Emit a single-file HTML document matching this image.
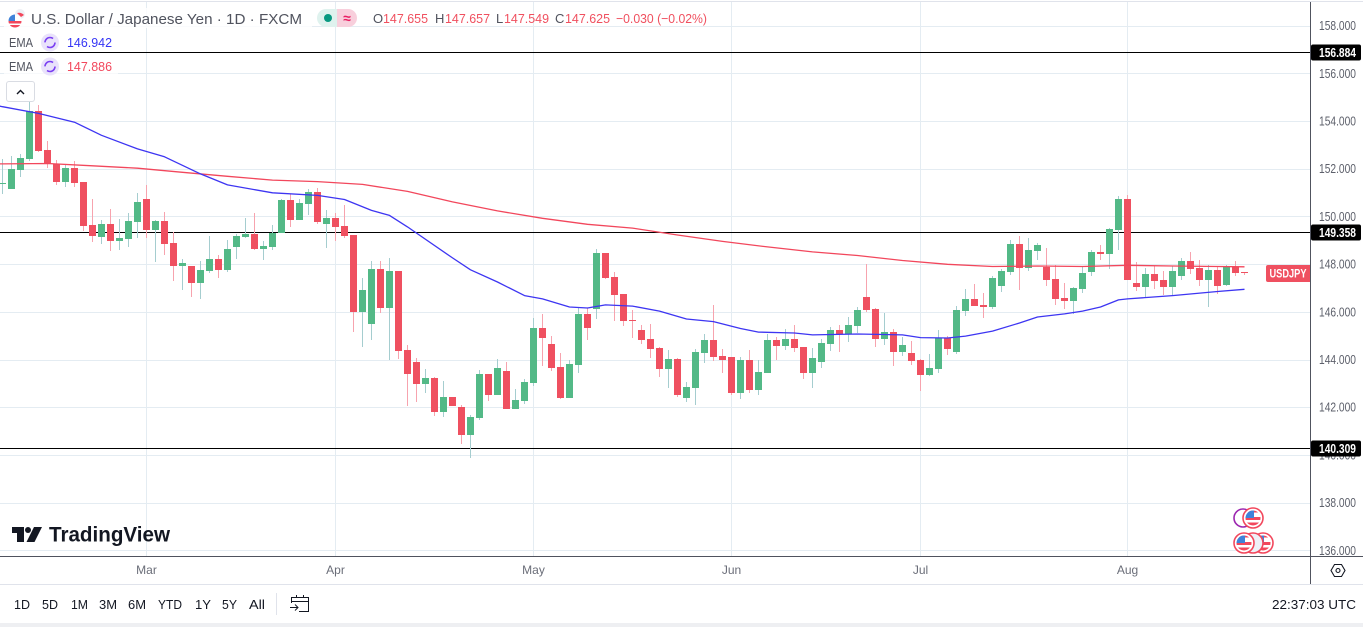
<!DOCTYPE html>
<html lang="en">
<head>
<meta charset="utf-8">
<title>USD/JPY Chart</title>
<style>
html,body{margin:0;padding:0;background:#fff;width:1363px;height:627px;overflow:hidden}
svg{display:block;font-family:"Liberation Sans",sans-serif}
</style>
</head>
<body>
<svg id="chart" xmlns="http://www.w3.org/2000/svg" width="1363" height="627" viewBox="0 0 1363 627">
  <defs>
    <clipPath id="paneClip"><rect x="0" y="2" width="1310" height="554"/></clipPath>
    <clipPath id="flagClip"><circle cx="0" cy="0" r="7.5"/></clipPath>
    <g id="usFlag">
      <circle r="10" fill="#fff" stroke="#f2475c" stroke-width="1.6"/>
      <g clip-path="url(#flagClip)">
        <rect x="-8" y="-8" width="16" height="16" fill="#fff"/>
        <rect x="-8" y="-8" width="16" height="2.5" fill="#f2475c"/>
        <rect x="-8" y="-1" width="16" height="3" fill="#f2475c"/>
        <rect x="-8" y="4.5" width="16" height="3.5" fill="#f2475c"/>
        <rect x="-8" y="-8" width="9" height="8" fill="#3f82d9"/>
      </g>
    </g>
  </defs>

  <rect x="0" y="0" width="1363" height="627" fill="#fff"/>
  <rect x="0" y="1" width="1363" height="1" fill="#e0e3eb"/>

  <g id="grid"></g>
  <g id="levels" clip-path="url(#paneClip)"></g>
  <g id="candles" clip-path="url(#paneClip)"></g>
  <g clip-path="url(#paneClip)">
    <polyline id="slowLine" fill="none" stroke="#f2475c" stroke-width="1.3" stroke-linejoin="round"/>
    <polyline id="fastLine" fill="none" stroke="#3d35f2" stroke-width="1.3" stroke-linejoin="round"/>
  </g>

  <!-- legend -->
  <rect x="4" y="8" width="308" height="20" fill="#fff" opacity="0.8"/>
  <g>
    <circle cx="20" cy="14" r="5" fill="#eef0f5"/>
    <path d="M17 13 A7 7 0 0 1 24 15 L21 17 Z" fill="#f2475c"/>
    <circle cx="15" cy="21" r="6.5" fill="#fff"/>
    <path d="M8.5 21 H21.5 A6.5 6.5 0 0 1 8.5 21 Z" fill="#f2475c"/>
    <rect x="8.5" y="23.5" width="13" height="1.5" fill="#fff"/>
    <path d="M8.5 21 A6.5 6.5 0 0 1 15 14.5 V21 Z" fill="#3f82d9"/>
  </g>
  <text x="31" y="24" font-size="15" fill="#50535e" textLength="271" lengthAdjust="spacingAndGlyphs">U.S. Dollar / Japanese Yen · 1D · FXCM</text>

  <g>
    <path d="M326 9 H337 V27 H326 A9 9 0 0 1 326 9 Z" fill="#dff2ee"/>
    <path d="M337 9 H348 A9 9 0 0 1 348 27 H337 Z" fill="#f8cfdc"/>
    <circle cx="328" cy="18" r="4" fill="#089981"/>
    <text x="347" y="23" font-size="14" fill="#e91e63" text-anchor="middle" font-weight="bold">≈</text>
  </g>

  <g font-size="13">
    <text x="373" y="23" fill="#50535e">O</text>
    <text x="383" y="23" fill="#f0505f" textLength="45" lengthAdjust="spacingAndGlyphs">147.655</text>
    <text x="435" y="23" fill="#50535e">H</text>
    <text x="445" y="23" fill="#f0505f" textLength="45" lengthAdjust="spacingAndGlyphs">147.657</text>
    <text x="496" y="23" fill="#50535e">L</text>
    <text x="504" y="23" fill="#f0505f" textLength="45" lengthAdjust="spacingAndGlyphs">147.549</text>
    <text x="555" y="23" fill="#50535e">C</text>
    <text x="565" y="23" fill="#f0505f" textLength="45" lengthAdjust="spacingAndGlyphs">147.625</text>
    <text x="616" y="23" fill="#f0505f" textLength="91" lengthAdjust="spacingAndGlyphs">−0.030 (−0.02%)</text>
  </g>

  <g>
    <rect x="4" y="33" width="114" height="19" fill="#fff" opacity="0.7"/>
    <text x="9" y="47" font-size="12.5" fill="#50535e" textLength="24" lengthAdjust="spacingAndGlyphs">EMA</text>
    <circle cx="50" cy="42.5" r="9" fill="#e9e2fb"/>
    <circle cx="50" cy="42.5" r="5" fill="none" stroke="#7a3ff2" stroke-width="1.6" stroke-dasharray="11 4.7"/>
    <text x="67" y="47" font-size="13" fill="#3535f5" textLength="45" lengthAdjust="spacingAndGlyphs">146.942</text>
  </g>
  <g>
    <rect x="4" y="57" width="114" height="19" fill="#fff" opacity="0.7"/>
    <text x="9" y="71" font-size="12.5" fill="#50535e" textLength="24" lengthAdjust="spacingAndGlyphs">EMA</text>
    <circle cx="50" cy="66.5" r="9" fill="#e9e2fb"/>
    <circle cx="50" cy="66.5" r="5" fill="none" stroke="#7a3ff2" stroke-width="1.6" stroke-dasharray="11 4.7"/>
    <text x="67" y="71" font-size="13" fill="#f2475c" textLength="45" lengthAdjust="spacingAndGlyphs">147.886</text>
  </g>
  <g>
    <rect x="6.5" y="81.5" width="28" height="20" rx="2.5" fill="#fff" stroke="#d9dce3"/>
    <path d="M17 94 L20.5 90.5 L24 94" fill="none" stroke="#131722" stroke-width="1.4"/>
  </g>

  <!-- watermark logo -->
  <g>
    <path d="M12 527 H24 V542 H17 V533 H12 Z" fill="#131722"/>
    <circle cx="28" cy="530" r="3" fill="#131722"/>
    <path d="M34 527 H42 L34.5 542 H26.5 Z" fill="#131722"/>
    <text x="49" y="541.5" font-size="21" font-weight="bold" fill="#131722" textLength="121" lengthAdjust="spacingAndGlyphs">TradingView</text>
  </g>

  <!-- event markers -->
  <g>
    <circle cx="1243" cy="518" r="9" fill="#fff" stroke="#9c27b0" stroke-width="1.6"/>
    <use href="#usFlag" x="1253" y="518"/>
    <use href="#usFlag" x="1263" y="543"/>
    <circle cx="1253" cy="543" r="10" fill="#eef0f7" stroke="#f2475c" stroke-width="1.6"/>
    <use href="#usFlag" x="1244" y="543"/>
  </g>

  <!-- axes -->
  <rect x="1310" y="2" width="1" height="582" fill="#50535e"/>
  <rect x="0" y="556" width="1363" height="1" fill="#50535e"/>
  <g id="priceAxis"></g>
  <g id="timeAxis"></g>
  <g id="levelTags"></g>

  <g>
    <path d="M1268 265 H1310 V282 H1268 A2 2 0 0 1 1266 280 V267 A2 2 0 0 1 1268 265 Z" fill="#ef5060"/>
    <text x="1269.5" y="277.5" font-size="11.5" font-weight="bold" fill="#fff" textLength="37" lengthAdjust="spacingAndGlyphs">USDJPY</text>
  </g>

  <g fill="none" stroke="#131722" stroke-width="1.1">
    <path d="M1331 570.5 L1334.5 564.5 H1341.5 L1345 570.5 L1341.5 576.5 H1334.5 Z"/>
    <circle cx="1338" cy="570.5" r="2"/>
  </g>

  <!-- bottom toolbar -->
  <rect x="0" y="584" width="1363" height="1" fill="#e0e3eb"/>
  <g font-size="13" fill="#131722">
    <text x="14" y="609" textLength="16" lengthAdjust="spacingAndGlyphs">1D</text>
    <text x="42" y="609" textLength="16" lengthAdjust="spacingAndGlyphs">5D</text>
    <text x="71" y="609" textLength="17" lengthAdjust="spacingAndGlyphs">1M</text>
    <text x="99" y="609" textLength="18" lengthAdjust="spacingAndGlyphs">3M</text>
    <text x="128" y="609" textLength="18" lengthAdjust="spacingAndGlyphs">6M</text>
    <text x="158" y="609" textLength="24" lengthAdjust="spacingAndGlyphs">YTD</text>
    <text x="195" y="609" textLength="16" lengthAdjust="spacingAndGlyphs">1Y</text>
    <text x="222" y="609" textLength="15" lengthAdjust="spacingAndGlyphs">5Y</text>
    <text x="249" y="609" textLength="16" lengthAdjust="spacingAndGlyphs">All</text>
  </g>
  <rect x="276" y="593" width="1" height="22" fill="#e0e3eb"/>
  <g fill="none" stroke="#131722" stroke-width="1">
    <path d="M291.5 603 V597.5 H308.5 V611.5 H299"/>
    <path d="M291.5 601.5 H308.5"/>
    <path d="M296.5 595 V598 M303.5 595 V598"/>
    <path d="M290 607.5 H298 M295 604.5 L298 607.5 L295 610.5"/>
  </g>
  <text x="1272" y="609" font-size="13" fill="#131722" textLength="84" lengthAdjust="spacingAndGlyphs">22:37:03 UTC</text>
  <rect x="0" y="623" width="1363" height="4" fill="#eeeff2"/>
</svg>

<script>
// ---- chart data (USD/JPY daily) ----
const opens = [
151.36,151.15,151.95,152.41,154.43,152.79,152.20,151.45,152.04,151.45,
149.64,149.14,149.68,148.97,149.05,149.77,150.73,149.43,149.81,148.89,
147.92,147.92,147.21,147.71,148.21,147.75,148.72,149.14,149.26,148.63,
148.72,149.31,150.69,149.85,150.52,151.03,149.68,149.94,149.60,149.22,
145.99,145.49,147.79,146.16,147.71,144.40,143.89,142.97,143.22,141.79,
142.42,142.00,140.83,141.54,143.39,142.51,143.51,141.92,142.25,143.01,
145.32,144.65,143.68,142.38,143.77,145.91,146.12,148.47,147.46,146.74,
145.66,145.24,144.86,144.48,143.60,144.02,142.38,142.80,144.27,144.82,
144.14,144.10,142.59,143.98,142.72,143.43,144.82,144.57,144.86,144.52,
143.43,143.89,144.65,145.24,145.07,145.40,146.62,146.12,144.86,145.15,
144.31,144.27,143.98,143.35,143.60,144.90,144.31,146.03,146.53,146.29,
146.20,147.08,147.67,148.85,147.84,148.55,147.88,147.38,146.58,146.45,
146.95,147.67,148.51,148.43,149.43,150.73,147.21,147.04,147.59,147.33,
147.04,147.50,148.13,147.84,147.33,147.75,147.12,147.88,147.655];
const highs = [
152.41,152.54,152.62,154.81,154.68,153.17,152.37,152.20,152.33,151.45,
150.73,149.85,150.31,149.89,150.15,150.99,151.32,149.85,150.19,149.35,
148.21,147.92,148.13,149.18,148.38,149.01,149.26,149.94,150.15,148.97,
149.64,150.73,150.94,150.73,151.15,151.20,150.27,150.15,150.48,149.22,
147.42,148.13,148.13,148.25,147.71,144.61,144.06,143.60,143.26,143.09,
142.42,142.09,141.67,143.56,143.39,144.02,143.89,142.76,143.18,145.74,
145.91,144.98,144.27,143.98,146.16,146.16,148.63,148.47,147.67,146.74,
146.07,145.45,145.49,144.52,144.40,144.06,143.05,144.44,145.07,146.29,
144.44,144.10,144.10,144.40,143.98,145.07,144.94,145.28,145.45,144.52,
144.48,144.86,145.36,145.45,145.78,146.20,148.00,146.16,145.95,145.28,
144.94,144.78,144.02,144.23,145.24,144.98,146.24,146.95,147.17,146.79,
147.50,147.79,149.01,149.18,149.10,148.89,148.68,147.96,147.21,147.04,
147.92,148.59,148.80,149.52,150.86,150.90,148.09,147.84,147.92,147.71,
147.92,148.25,148.51,148.17,147.96,147.88,147.96,148.13,147.657];
const lows = [
150.94,151.15,151.66,152.33,152.71,152.04,151.32,151.24,151.24,149.39,
148.93,148.85,148.55,148.59,148.72,149.10,149.10,148.09,148.38,147.29,
146.91,146.62,146.54,147.63,147.42,147.67,148.21,149.10,148.59,148.17,
148.59,149.31,149.56,149.85,150.06,149.68,148.68,148.97,149.10,145.15,
144.52,144.82,145.95,143.98,144.02,142.05,142.21,142.59,141.63,141.59,
142.05,140.45,139.87,141.46,142.25,142.51,141.92,141.92,142.13,142.88,
143.72,143.51,142.34,142.38,143.43,144.82,145.70,147.38,145.61,145.40,
144.90,144.65,144.06,143.26,142.80,142.42,142.21,142.09,143.85,143.94,
143.43,142.51,142.34,142.59,142.51,143.43,143.98,144.40,144.31,143.18,
142.80,143.64,144.36,144.31,144.74,145.11,145.99,144.52,144.61,143.72,
144.14,143.77,142.68,143.31,143.43,144.19,144.23,145.82,146.24,145.74,
146.12,146.83,147.54,146.91,147.71,148.17,147.08,146.29,146.12,145.91,
146.79,147.50,148.17,147.79,148.59,147.33,146.87,146.62,146.95,146.70,
146.66,147.33,147.59,147.08,146.20,146.75,147.08,147.50,147.549];
const closes = [
151.41,151.99,152.46,154.43,152.75,152.25,151.45,152.04,151.41,149.60,
149.18,149.68,148.97,149.10,149.81,150.61,149.43,149.81,148.85,147.92,
148.05,147.21,147.75,148.21,147.75,148.63,149.18,149.26,148.63,148.76,
149.31,150.69,149.85,150.56,151.03,149.77,149.94,149.56,149.18,145.99,
146.91,147.79,146.16,147.71,144.36,143.39,142.97,143.22,141.79,142.42,
142.05,140.83,141.59,143.39,142.51,143.64,141.92,142.30,143.05,145.32,
144.90,143.64,142.38,143.81,145.91,145.32,148.47,147.42,146.70,145.61,
145.61,144.82,144.44,143.60,144.02,142.51,142.84,144.31,144.82,144.10,
143.98,142.59,143.98,142.72,143.47,144.82,144.57,144.86,144.48,143.43,
144.06,144.69,145.24,145.07,145.45,146.07,146.07,144.86,145.15,144.31,
144.61,143.94,143.35,143.64,144.90,144.44,146.07,146.53,146.24,146.20,
147.42,147.71,148.85,147.84,148.59,148.80,147.33,146.54,146.45,147.00,
147.63,148.51,148.43,149.47,150.73,147.33,147.04,147.59,147.29,147.04,
147.71,148.13,147.79,147.33,147.75,147.08,147.88,147.63,147.625];

// EMA readings, sampled at these bar numbers
const emaFastBars = [-1,0,4,8,11,15,18,22,25,30,35,38,41,43,45,50,52,55,58,60,63,65,67,70,73,76,79,82,84,88,90,95,100,102,105,107,110,113,115,118,120,122,124,125,130,135,138];
const emaFast = [154.68,154.60,154.32,153.95,153.40,152.83,152.50,151.78,151.32,150.99,150.88,150.71,150.25,150.04,149.56,148.26,147.76,147.25,146.68,146.54,146.20,146.16,146.29,146.24,146.03,145.70,145.59,145.30,145.15,145.11,145.03,145.07,145.03,144.92,144.90,144.98,145.19,145.53,145.78,145.91,146.03,146.20,146.50,146.54,146.68,146.85,146.942];
const emaSlowBars = [-1,0,5,10,15,20,25,30,35,40,45,50,55,60,65,70,75,80,85,90,95,100,105,110,115,120,125,130,135,138];
const emaSlow = [152.20,152.20,152.22,152.12,152.02,151.85,151.68,151.52,151.46,151.34,151.05,150.61,150.23,149.92,149.67,149.51,149.22,148.95,148.72,148.51,148.36,148.15,147.99,147.90,147.92,147.90,147.95,147.92,147.90,147.886];

const priceTicks = [158,156,154,152,150,148,146,144,142,140,138,136];
const priceTickLabels = ["158.000","156.000","154.000","152.000","150.000","148.000","146.000","144.000","142.000","140.000","138.000","136.000"];
const monthNames = ["Mar","Apr","May","Jun","Jul","Aug"];
const monthBars = [16,37,59,81,102,125];
const levelPrices = [156.884,149.358,140.309];
const levelLabels = ["156.884","149.358","140.309"];

// ---- axis functions ----
function xOf(bar){ return 2.5 + 9*bar; }
function yOf(price){ return 216.4 + (150-price)*23.85; }

const NS = "http://www.w3.org/2000/svg";
function make(tag, parent, props){
  const el = document.createElementNS(NS, tag);
  for (const k in props) el.setAttribute(k, props[k]);
  parent.appendChild(el);
  return el;
}

const grid = document.getElementById("grid");
const gridColor = "#e4ecf2";
priceTicks.forEach(function(p){
  const el = make("rect", grid, {x:0, y:Math.round(yOf(p)), width:1310, height:1, fill:gridColor});
  
  
});
monthBars.forEach(function(b){
  const el = make("rect", grid, {x:xOf(b)-0.5, y:2, width:1, height:554, fill:gridColor});
  
  
});

const levels = document.getElementById("levels");
levelPrices.forEach(function(p){
  const el = make("rect", levels, {x:0, y:Math.round(yOf(p)), width:1310, height:1, fill:"#000"});
  
  
});

const candles = document.getElementById("candles");
opens.forEach(function(o, i){
  const c = closes[i], up = c >= o;
  const xc = xOf(i);
  const yH = Math.round(yOf(highs[i])), yL = Math.round(yOf(lows[i]));
  const yT = Math.round(yOf(Math.max(o,c))), yB = Math.round(yOf(Math.min(o,c)));
  const wick = make("rect", candles, {x:xc-0.5, y:yH, width:1, height:Math.max(1,yL-yH), fill:up?"#a5cdcf":"#f7a3ae"});
  
  
  const body = make("rect", candles, {x:xc-3.5, y:yT, width:7, height:Math.max(1,yB-yT), fill:up?"#53b987":"#ef5060"});
  
  
});

function emaPoints(bars, values){
  return values.map(function(v,i){ return xOf(bars[i]).toFixed(1)+","+yOf(v).toFixed(1); }).join(" ");
}
document.getElementById("fastLine").setAttribute("points", emaPoints(emaFastBars, emaFast));
document.getElementById("slowLine").setAttribute("points", emaPoints(emaSlowBars, emaSlow));

const priceAxis = document.getElementById("priceAxis");
priceTicks.forEach(function(p,i){
  const t = make("text", priceAxis, {x:1319, y:yOf(p)+4.5, "font-size":12.5, fill:"#5d606b", textLength:37, lengthAdjust:"spacingAndGlyphs"});
  t.textContent = priceTickLabels[i];
  
  
});

const timeAxis = document.getElementById("timeAxis");
monthNames.forEach(function(m,i){
  const t = make("text", timeAxis, {x:xOf(monthBars[i]), y:574, "font-size":12, fill:"#6a6d78", "text-anchor":"middle"});
  t.textContent = m;
  
  
});

const levelTags = document.getElementById("levelTags");
levelPrices.forEach(function(p,i){
  const y = Math.round(yOf(p));
  const r = make("rect", levelTags, {x:1311, y:y-7.5, width:50, height:16, rx:2, fill:"#000"});
  
  
  const t = make("text", levelTags, {x:1319, y:y+5, "font-size":12.5, "font-weight":"bold", fill:"#fff", textLength:37, lengthAdjust:"spacingAndGlyphs"});
  t.textContent = levelLabels[i];
  
  
});
</script>
</body>
</html>
